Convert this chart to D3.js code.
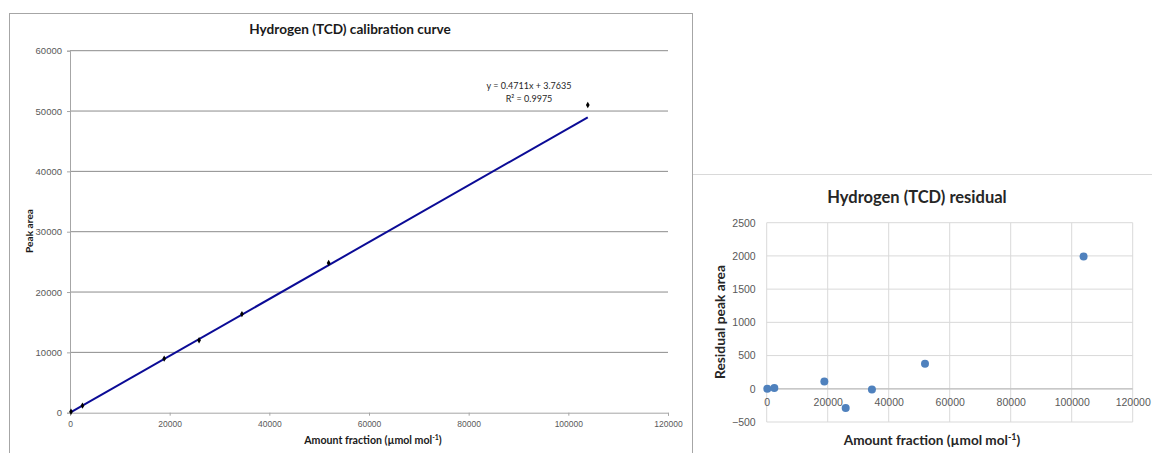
<!DOCTYPE html>
<meta charset="utf-8">
<head>
    <style type="text/css">
        body { margin: 0; background: #fff; }
        svg { display: block; font-family: Lato, "Open Sans", sans-serif; }
        .tick text { fill: #595959; }
        .left .domain, .left .tick line { stroke: #a6a6a6; }
        .right .domain { display: none; }
    </style>
</head>
<body>
    <script src="https://d3js.org/d3.v7.min.js"></script>
    <script>
        // data
        var amount = [200, 2500, 18900, 25900, 34500, 51900, 103900];
        var peakArea = [160, 1170, 8960, 12000, 16340, 24820, 51000];
        var residual = [0, 10, 110, -290, -10, 375, 1990];
        var fitSlope = 0.4711, fitIntercept = 3.7635, fitR2 = 0.9975;

        var xTicks = [0, 20000, 40000, 60000, 80000, 100000, 120000];
        var yTicksLeft = [0, 10000, 20000, 30000, 40000, 50000, 60000];
        var yTicksRight = [-500, 0, 500, 1000, 1500, 2000, 2500];

        var svg = d3.select("body").append("svg")
            .attr("width", 1152)
            .attr("height", 453);

        // chart frames
        svg.append("rect")
            .attr("x", 9.5).attr("y", 13.5)
            .attr("width", 683).attr("height", 460)
            .attr("fill", "none").attr("stroke", "#a6a6a6");
        svg.append("path")
            .attr("d", "M693,174.5H1152")
            .attr("stroke", "#d9d9d9").attr("fill", "none");

        // ---------- left: calibration curve ----------
        var xL = d3.scaleLinear().domain([0, 120000]).range([70, 668]);
        var yL = d3.scaleLinear().domain([0, 60000]).range([412.7, 50.7]);

        var left = svg.append("g").attr("class", "left");

        left.selectAll(".hgrid")
            .data(yTicksLeft.slice(1))
            .enter().append("line")
            .attr("x1", xL(0)).attr("x2", xL(120000))
            .attr("y1", function (d) { return yL(d); })
            .attr("y2", function (d) { return yL(d); })
            .attr("stroke", "#8c8c8c");

        left.append("g")
            .attr("transform", "translate(" + xL(0) + ",0)")
            .call(d3.axisLeft(yL).tickValues(yTicksLeft).tickSize(3).tickPadding(5).tickFormat(d3.format("d")))
            .call(function (g) { g.selectAll("text").attr("font-size", 9.5).attr("font-family", null); });

        left.append("g")
            .attr("transform", "translate(0," + yL(0) + ")")
            .call(d3.axisBottom(xL).tickValues(xTicks).tickSize(3).tickPadding(5).tickFormat(d3.format("d")))
            .call(function (g) { g.selectAll("text").attr("font-size", 8.5).attr("font-family", null); });

        // trend line
        var xMin = d3.min(amount), xMax = d3.max(amount);
        left.append("line")
            .attr("x1", xL(xMin)).attr("y1", yL(fitSlope * xMin + fitIntercept))
            .attr("x2", xL(xMax)).attr("y2", yL(fitSlope * xMax + fitIntercept))
            .attr("stroke", "#0b0b96").attr("stroke-width", 2);

        left.selectAll(".dot")
            .data(amount)
            .enter().append("path")
            .attr("class", "dot")
            .attr("d", d3.symbol().type(d3.symbolDiamond).size(12))
            .attr("transform", function (d, i) {
                return "translate(" + xL(d) + "," + yL(peakArea[i]) + ")";
            })
            .attr("fill", "#000");

        left.append("text")
            .attr("x", 350).attr("y", 34)
            .attr("text-anchor", "middle")
            .attr("font-size", 13.6).attr("font-weight", "bold")
            .attr("fill", "#1a1a1a")
            .text("Hydrogen (TCD) calibration curve");

        var eq = left.append("text")
            .attr("text-anchor", "middle")
            .attr("font-size", 9).attr("fill", "#262626");
        eq.append("tspan").attr("x", 529).attr("y", 89)
            .text("y = " + fitSlope + "x + " + fitIntercept);
        eq.append("tspan").attr("x", 529).attr("y", 102)
            .text("R² =  " + fitR2);

        left.append("text")
            .attr("transform", "translate(33,231) rotate(-90)")
            .attr("text-anchor", "middle")
            .attr("font-size", 10.2).attr("font-weight", "bold")
            .attr("fill", "#1a1a1a")
            .text("Peak area");

        var xtl = left.append("text")
            .attr("x", 373).attr("y", 444)
            .attr("text-anchor", "middle")
            .attr("font-size", 10.6).attr("font-weight", "bold")
            .attr("fill", "#1a1a1a");
        xtl.append("tspan").text("Amount fraction (µmol mol");
        xtl.append("tspan").attr("font-size", 7).attr("dy", -4).text("-1");
        xtl.append("tspan").attr("dy", 4).text(")");

        // ---------- right: residuals ----------
        var xR = d3.scaleLinear().domain([0, 120000]).range([766.7, 1132.7]);
        var yR = d3.scaleLinear().domain([-500, 2500]).range([422, 222.7]);

        var right = svg.append("g").attr("class", "right");

        right.selectAll(".hgrid")
            .data(yTicksRight)
            .enter().append("line")
            .attr("x1", xR(0)).attr("x2", xR(120000))
            .attr("y1", function (d) { return yR(d); })
            .attr("y2", function (d) { return yR(d); })
            .attr("stroke", "#d9d9d9");

        right.selectAll(".vgrid")
            .data(xTicks)
            .enter().append("line")
            .attr("y1", yR(-500)).attr("y2", yR(2500))
            .attr("x1", function (d) { return xR(d); })
            .attr("x2", function (d) { return xR(d); })
            .attr("stroke", "#d9d9d9");

        right.append("line")
            .attr("x1", xR(0)).attr("x2", xR(120000))
            .attr("y1", yR(0)).attr("y2", yR(0))
            .attr("stroke", "#bfbfbf").attr("stroke-width", 1.3);

        right.append("g")
            .attr("transform", "translate(" + (xR(0) - 3) + ",0)")
            .call(d3.axisLeft(yR).tickValues(yTicksRight).tickSize(0).tickPadding(8).tickFormat(d3.format("d")))
            .call(function (g) { g.selectAll("text").attr("font-size", 10.5).attr("font-family", null); });

        right.append("g")
            .attr("transform", "translate(0," + yR(0) + ")")
            .call(d3.axisBottom(xR).tickValues(xTicks).tickSize(0).tickPadding(10).tickFormat(d3.format("d")))
            .call(function (g) { g.selectAll("text").attr("font-size", 10.5).attr("font-family", null); });

        right.selectAll(".res")
            .data(amount)
            .enter().append("circle")
            .attr("class", "res")
            .attr("cx", function (d) { return xR(d); })
            .attr("cy", function (d, i) { return yR(residual[i]); })
            .attr("r", 4)
            .attr("fill", "#4f81bd");

        right.append("text")
            .attr("x", 917).attr("y", 203)
            .attr("text-anchor", "middle")
            .attr("font-size", 16.5).attr("font-weight", "bold")
            .attr("fill", "#262626")
            .text("Hydrogen (TCD) residual");

        right.append("text")
            .attr("transform", "translate(725,322) rotate(-90)")
            .attr("text-anchor", "middle")
            .attr("font-size", 13.8).attr("font-weight", "bold")
            .attr("fill", "#262626")
            .text("Residual peak area");

        var xtr = right.append("text")
            .attr("x", 932).attr("y", 445)
            .attr("text-anchor", "middle")
            .attr("font-size", 13.6).attr("font-weight", "bold")
            .attr("fill", "#262626");
        xtr.append("tspan").text("Amount fraction (µmol mol");
        xtr.append("tspan").attr("font-size", 9).attr("dy", -5).text("-1");
        xtr.append("tspan").attr("dy", 5).text(")");
    </script>
</body>
